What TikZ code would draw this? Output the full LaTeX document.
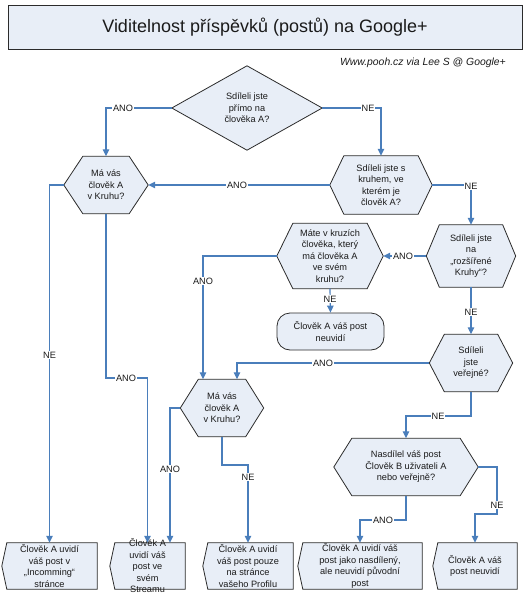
\documentclass[tikz,border=0pt]{standalone}
\usepackage{fontspec}
\setmainfont{Liberation Sans}
\usetikzlibrary{arrows.meta,backgrounds}
\definecolor{shfill}{HTML}{E8EEF7}
\definecolor{shdraw}{HTML}{2B2B2B}
\definecolor{lnblue}{HTML}{4A7EBB}
\definecolor{txt}{HTML}{1A1A1A}
\newcommand\nodefont{\fontsize{9.2}{11.5}\selectfont}
\newcommand\hexout[2]{\filldraw[shp] (#1.west) -- ([xshift=#2]#1.north west) -- ([xshift=-#2]#1.north east) -- (#1.east) -- ([xshift=-#2]#1.south east) -- ([xshift=#2]#1.south west) -- cycle;}
\newcommand\dispout[1]{\filldraw[shp] (#1.west) -- ([xshift=5pt]#1.north west) -- (#1.north east) -- (#1.south east) -- ([xshift=5pt]#1.south west) -- cycle;}
\newcommand\diaout[1]{\filldraw[shp] (#1.west) -- (#1.north) -- (#1.east) -- (#1.south) -- cycle;}
\begin{document}
\begin{tikzpicture}[x=1pt,y=-1pt,
  box/.style={inner sep=0pt, align=center, font=\nodefont, text=txt},
  lbl/.style={fill=white, inner sep=0.8pt, font=\nodefont, text=txt},
  conn/.style={draw=lnblue, line width=1.2pt, -{Triangle[length=7pt,width=6.5pt]}},
  plain/.style={draw=lnblue, line width=1.2pt},
  shp/.style={fill=shfill, draw=shdraw, line width=0.8pt}]
\useasboundingbox (0,0) rectangle (532,600);

% title and credit
\node[draw=shdraw, fill=shfill, line width=0.8pt, minimum width=514pt, minimum height=44pt,
  inner sep=0pt, text=txt, font=\fontsize{18}{20}\selectfont] (title) at (265,27) {Viditelnost příspěvků (postů) na Google+};
\node[anchor=east, inner sep=0pt, text=txt, font=\fontsize{10.4}{12}\selectfont\itshape] (credit) at (506,63) {Www.pooh.cz via Lee S @ Google+};

% decision shapes
\node[box, minimum width=150pt, minimum height=84pt] (D1) at (247,108) {Sdíleli jste\\přímo na\\člověka A?};
\node[box, minimum width=84pt, minimum height=57pt] (H1) at (106,185) {Má vás\\člověk A\\v Kruhu?};
\node[box, minimum width=102pt, minimum height=58pt] (H2) at (381,185) {Sdíleli jste s\\kruhem, ve\\kterém je\\člověk A?};
\node[box, minimum width=89pt, minimum height=62pt] (H3) at (471,256) {Sdíleli jste\\na\\„rozšířené\\Kruhy“?};
\node[box, minimum width=106pt, minimum height=65pt] (H4) at (330,256) {Máte v kruzích\\člověka, který\\má člověka A\\ve svém\\kruhu?};
\node[box, draw=shdraw, fill=shfill, line width=0.8pt, rounded corners=13pt, minimum width=107pt, minimum height=37pt] (R1) at (330.5,331.5) {Člověk A váš post\\neuvidí};
\node[box, minimum width=83pt, minimum height=57pt] (H5) at (222,408) {Má vás\\člověk A\\v Kruhu?};
\node[box, minimum width=83pt, minimum height=57pt] (H6) at (471,363) {Sdíleli\\jste\\veřejné?};
\node[box, minimum width=144pt, minimum height=57pt] (H7) at (406,467) {Nasdílel váš post\\Člověk B uživateli A\\nebo veřejně?};

% end shapes
\node[box, minimum width=95pt, minimum height=46pt] (B1) at (49.5,566) {Člověk A uvidí\\váš post v\\„Incomming“\\stránce};
\node[box, inner ysep=-5.5pt, minimum width=75pt, minimum height=46pt] (B2) at (147.5,566) {Člověk A\\uvidí váš\\post ve\\svém\\Streamu};
\node[box, minimum width=90pt, minimum height=46pt] (B3) at (248,566) {Člověk A uvidí\\váš post pouze\\na stránce\\vašeho Profilu};
\node[box, minimum width=124pt, minimum height=46pt] (B4) at (360,566) {Člověk A uvidí váš\\post jako nasdílený,\\ale neuvidí původní\\post};
\node[box, minimum width=84pt, minimum height=46pt] (B5) at (475,566) {Člověk A váš\\post neuvidí};

\begin{scope}[on background layer]
  \diaout{D1}
  \hexout{H1}{19pt}
  \hexout{H2}{14pt}
  \hexout{H3}{13pt}
  \hexout{H4}{16pt}
  \hexout{H5}{18pt}
  \hexout{H6}{15pt}
  \hexout{H7}{18pt}
  \dispout{B1}
  \dispout{B2}
  \dispout{B3}
  \dispout{B4}
  \dispout{B5}
\end{scope}

% bend points
\coordinate (b10) at (438,416);
\coordinate (b11) at (497,514);
\coordinate (b12) at (383,520);
\coordinate (b14) at (248,465);
\coordinate (b15) at (147.5,378);

% connectors
\draw[conn] (D1.west) -| (H1.north);
\draw[conn] (D1.east) -| (H2.north);
\draw[conn] (H2.west) -- (H1.east);
\draw[conn] (H2.east) -| (H3.north);
\draw[conn] (H3.west) -- (H4.east);
\draw[conn] (H4.south) -- (R1.north);
\draw[conn] (H4.west) -| ([xshift=-19pt]H5.north);
\draw[conn] (H3.south) -- (H6.north);
\draw[conn] (H6.west) -| ([xshift=15pt]H5.north);
\draw[conn] (H6.south) |- (b10) -| (H7.north);
\draw[conn] (H7.east) -| (b11) -| (B5.north);
\draw[conn] (H7.south) |- (b12) -| (B4.north);
\draw[conn] (H5.west) -| ([xshift=22.5pt]B2.north);
\draw[conn] (H5.south) |- (b14) -- (B3.north);
\draw[conn] (H1.south) |- (b15) -- (B2.north);
\draw[conn] (H1.west) -| (B1.north);

% labels
\node[lbl] (l1) at (123,108) {ANO};
\node[lbl] (l2) at (368,108) {NE};
\node[lbl] (l3) at (237,185) {ANO};
\node[lbl] (l4) at (471,186) {NE};
\node[lbl] (l5) at (403,256) {ANO};
\node[lbl] (l6) at (330,299) {NE};
\node[lbl] (l7) at (203,281) {ANO};
\node[lbl] (l8) at (471,312) {NE};
\node[lbl] (l9) at (323,363) {ANO};
\node[lbl] (l10) at (b10) {NE};
\node[lbl] (l11) at (497,505) {NE};
\node[lbl] (l12) at (b12) {ANO};
\node[lbl] (l13) at (170,469) {ANO};
\node[lbl] (l14) at (248,477) {NE};
\node[lbl] (l15) at (126,378) {ANO};
\node[lbl] (l16) at (49.5,355) {NE};
\end{tikzpicture}
\end{document}
